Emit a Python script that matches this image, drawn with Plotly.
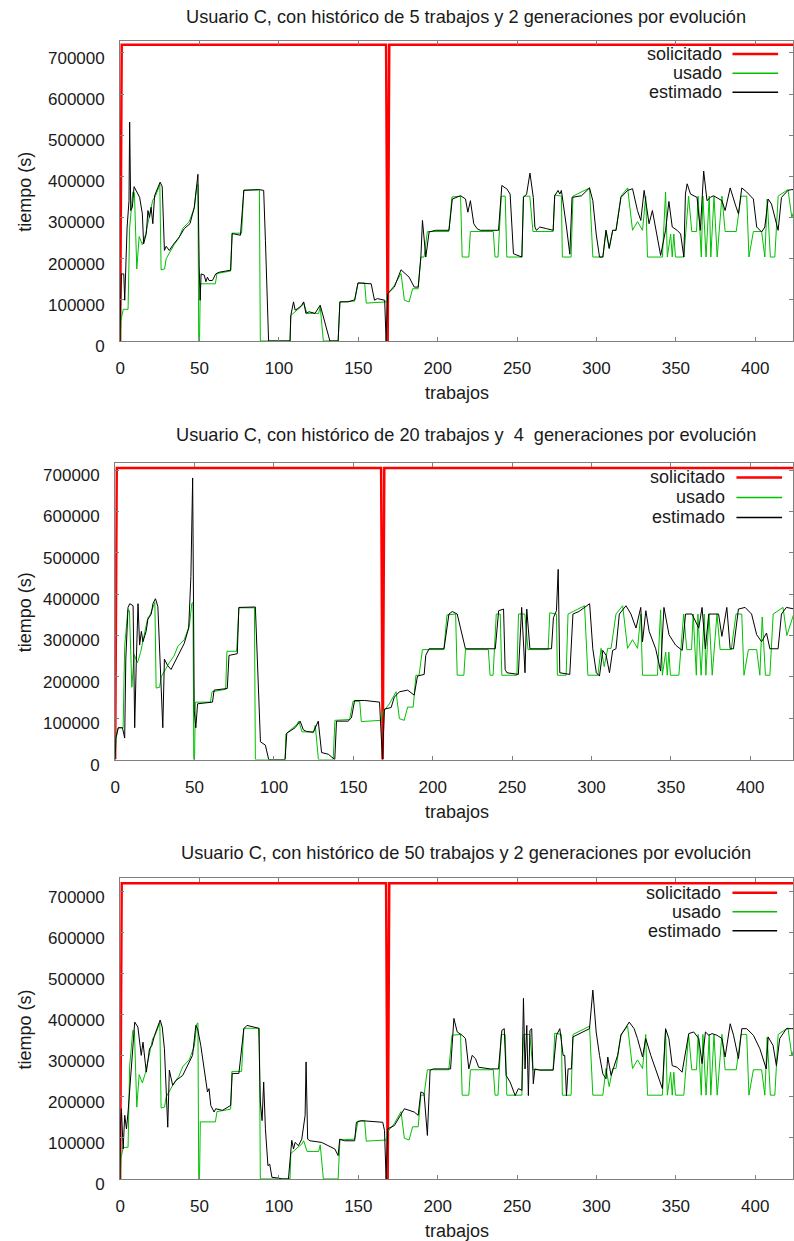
import plotly.graph_objects as go

# target picture is 794 x 1241; the capture squeezes the page height slightly, so the
# figure is drawn a little taller and every position is given as a fraction of the page
PAGE_W, PAGE_H = 794, 1241
W, H = 794, 1257

# ---------------- data (job index, seconds) ----------------
solicitado_x = [0, 1, 167.5, 168.5, 169.5, 430]
solicitado1_y = [0, 720000, 720000, 0, 720000, 720000]
solicitado2_y = [0, 705000, 705000, 0, 705000, 705000]
solicitado3_y = [0, 720000, 720000, 0, 720000, 720000]

usado_x = [0, 0.5, 2, 5, 6, 8, 9, 10.5, 12, 14, 16, 18.5, 20.5, 22, 24.5, 25, 25.8, 28, 29, 31, 34, 37, 39.5, 43.5, 46.7, 48.3, 49, 49.5, 50, 50.5, 60, 61, 69.6, 70.4, 76.5, 77.9, 87.7, 88.3,
           107, 107.5, 114.4, 115.6, 117.7, 125, 126, 128, 137.3, 138.4, 147.7, 149.8, 154, 155, 167.5, 168.5, 172.7, 176.9, 179, 182, 184.2, 187.7, 189.4, 191.4, 193.5, 207, 209, 214.4,
           215.4, 219.6, 220.6, 235, 236.1, 238, 240, 242.5, 243.5, 253, 254, 258, 260, 272.7, 273.7, 277.9, 278.5, 284, 285.2, 295.6, 297.7, 304, 306, 308, 310.2, 312.3, 315.4, 319.6,
           322.7, 325.8, 329, 331, 332.1, 341.5, 343.5, 344.6, 346.7, 347.7, 348.7, 349.7, 355, 358, 360, 363, 364, 366, 367, 369, 371, 372, 374, 376, 379, 381, 388, 391, 394.6, 396,
           398.8, 404, 406, 407.5, 409.5, 412.3, 414.4, 420.6, 423, 428]
usado_y = [0, 50e3, 77e3, 77e3, 275e3, 362e3, 360e3, 175e3, 254e3, 234e3, 259e3, 310e3, 342e3, 350e3, 378e3, 380e3, 173e3, 175e3, 200e3, 215e3, 234e3, 250e3, 274e3, 290e3, 323e3, 378e3, 380e3, 0, 0, 139e3, 139e3, 164e3, 170e3, 262e3, 262e3, 367e3, 367e3, 0,
           0, 62e3, 85e3, 93e3, 67e3, 67e3, 83e3, 0, 0, 95e3, 97e3, 141e3, 141e3, 92e3, 95e3, 115e3, 135e3, 164e3, 99e3, 95e3, 127e3, 127e3, 204e3, 204e3, 266e3, 266e3, 350e3, 352e3,
           204e3, 204e3, 266e3, 266e3, 204e3, 204e3, 352e3, 352e3, 204e3, 204e3, 352e3, 352e3, 266e3, 266e3, 355e3, 352e3, 204e3, 204e3, 352e3, 372e3, 204e3, 204e3, 269e3, 225e3, 269e3, 269e3, 352e3, 372e3,
           269e3, 290e3, 269e3, 352e3, 204e3, 204e3, 362e3, 204e3, 260e3, 204e3, 260e3, 204e3, 204e3, 352e3, 266e3, 266e3, 352e3, 204e3, 352e3, 204e3, 352e3, 204e3, 352e3, 204e3, 352e3, 266e3, 266e3, 352e3, 352e3, 204e3,
           266e3, 266e3, 204e3, 345e3, 204e3, 204e3, 352e3, 368e3, 300e3, 360e3]

estimado1_x = [0, 0.1, 0.8, 2.3, 2.9, 3.9, 4.4, 5.6, 6, 6.7, 7.7, 8.8, 12.3, 14, 14.8, 16.5, 17.5, 18.5, 19.5, 20.6, 21.7, 23.8, 25.2, 26.5, 27.9, 29, 31, 33, 37.3, 40.4, 44, 46.7, 48.3, 49, 49.8, 50.4, 51, 53, 54, 55, 56, 58.1, 60.2, 62.3, 69.6, 70.6, 75.8, 77.9, 87.3, 90.4, 91.5, 93.5,
               107, 107.5, 109.2, 110.2, 112, 114.4, 115.6, 117, 119, 122.7, 126, 128, 132.1, 137.3, 138.4, 143.5, 147.7, 149.8, 158.1, 160.2, 162, 166.6, 167.5, 168.5, 172.7, 176.9, 182, 185.2, 187.7, 189.4, 190.4, 192.5, 194.6, 198.8, 207.1, 209.2, 214.4, 217.5, 219, 220.6, 222.7, 224.8, 226.8,
               238.3, 240.4, 242.5, 243.5, 245.6, 247.7, 253, 254, 256, 258.1, 260.2, 261.2, 262.2, 264.3, 268.5, 272.7, 273.7, 275.8, 276.9, 277.9, 281.1, 283.2, 284.6, 290.6, 295.6, 297.7, 299.8, 301.9, 304, 306, 308, 310.2, 312.3, 315.4, 319.6, 322.7, 325.8, 327.9, 330, 333.1, 335.2, 338,
               340.4, 343.5, 345.6, 347.7, 350.8, 353, 355, 356, 357.1, 359.2, 363.3, 365.4, 367.5, 369.6, 371.7, 373.7, 379, 381, 384.2, 387.3, 389.4, 391.5, 394.6, 398.8, 400.9, 404, 406, 408.1, 410.2, 412.3, 414.4, 416.5, 420.6, 423, 428]
estimado1_y = [0, 58e3, 163e3, 163e3, 99e3, 196e3, 277e3, 341e3, 532e3, 317e3, 325e3, 375e3, 349e3, 309e3, 236e3, 261e3, 317e3, 300e3, 325e3, 285e3, 353e3, 373e3, 386e3, 375e3, 220e3, 230e3, 220e3, 232e3, 253e3, 273e3, 285e3, 325e3, 390e3, 405e3, 180e3, 99e3, 163e3, 160e3, 144e3, 155e3, 147e3, 147e3, 163e3, 167e3, 172e3, 261e3, 257e3, 366e3, 368e3, 366e3, 245e3, 0,
               0, 62e3, 95e3, 75e3, 79e3, 87e3, 95e3, 67e3, 71e3, 67e3, 87e3, 59e3, 0, 0, 95e3, 95e3, 100e3, 141e3, 139e3, 99e3, 103e3, 99e3, 0, 115e3, 131e3, 173e3, 155e3, 131e3, 131e3, 204e3, 293e3, 204e3, 265e3, 269e3, 269e3, 345e3, 353e3, 345e3, 313e3, 341e3, 285e3, 273e3, 269e3,
               269e3, 378e3, 372e3, 370e3, 357e3, 212e3, 204e3, 349e3, 357e3, 408e3, 349e3, 277e3, 269e3, 277e3, 273e3, 269e3, 353e3, 366e3, 357e3, 366e3, 277e3, 211e3, 349e3, 353e3, 372e3, 341e3, 260e3, 204e3, 204e3, 269e3, 225e3, 269e3, 269e3, 349e3, 366e3, 370e3, 317e3, 293e3, 366e3, 285e3, 317e3, 260e3,
               208e3, 269e3, 339e3, 277e3, 269e3, 260e3, 204e3, 357e3, 382e3, 357e3, 349e3, 269e3, 413e3, 341e3, 349e3, 353e3, 341e3, 317e3, 372e3, 333e3, 309e3, 372e3, 362e3, 345e3, 277e3, 265e3, 277e3, 345e3, 333e3, 301e3, 269e3, 349e3, 366e3, 368e3, 366e3]

estimado2_x = [0, 0.4, 1.9, 4.6, 6, 6.7, 8.1, 9.2, 11.3, 12.3, 13.3, 14.4, 15.4, 16.5, 17.5, 19.5, 20.6, 22.7, 23.8, 25.4, 26.9, 27.9, 29, 30, 31, 33.1, 35.2, 38.3, 40.4, 43.5, 46.3, 47.7, 48.8, 49.8, 50.8, 51.9, 61.3, 62.3, 70.6, 71.7, 76.9, 77.9, 88.3, 89.4, 91.5, 94.6, 96.7,
               107, 108.1, 113.3, 116.5, 118.5, 120.6, 124.8, 126.9, 127.9, 130, 134.2, 138.3, 139.4, 146.7, 148.8, 150.8, 157.1, 166.5, 168.3, 169.6, 173.8, 175.8, 179, 184.2, 188.3, 190.4, 194.6, 195.6, 197.7, 207.1, 210.2, 212.3, 215.4, 217.5, 220.6, 239.4, 241.5, 244.6, 245.6, 246.7,
               253.9, 256, 258.1, 259.2, 261.2, 274.8, 276, 277.9, 279, 280, 286.3, 288.3, 292, 298.8, 300.8, 303, 305, 307.1, 309.2, 311.3, 313.3, 315.4, 317.5, 321.7, 324.8, 328, 331, 332.1, 334.2, 336.3, 340.4, 343.5, 345.6, 348.8, 352.9, 357.1, 359.2, 363.3, 367.5, 369.6, 371.7, 373.8,
               380, 382.1, 385.2, 387.3, 389.4, 392.5, 396.7, 400.8, 404, 407.1, 410.2, 412.3, 417.5, 419.6, 422.7, 428]
estimado2_y = [0, 52e3, 77e3, 77e3, 52e3, 243e3, 368e3, 377e3, 372e3, 77e3, 235e3, 377e3, 277e3, 310e3, 285e3, 310e3, 339e3, 352e3, 377e3, 389e3, 370e3, 277e3, 185e3, 77e3, 243e3, 227e3, 218e3, 243e3, 260e3, 281e3, 318e3, 443e3, 681e3, 118e3, 77e3, 135e3, 139e3, 168e3, 172e3, 252e3, 256e3, 368e3, 369e3, 252e3, 43e3, 35e3, 0,
               0, 64e3, 77e3, 93e3, 72e3, 68e3, 66e3, 85e3, 93e3, 17e3, 13e3, 0, 93e3, 93e3, 101e3, 143e3, 143e3, 139e3, 0, 122e3, 126e3, 151e3, 164e3, 168e3, 156e3, 202e3, 206e3, 252e3, 268e3, 268e3, 352e3, 358e3, 352e3, 318e3, 268e3, 268e3, 360e3, 364e3, 218e3, 210e3,
               206e3, 368e3, 210e3, 364e3, 268e3, 268e3, 343e3, 360e3, 460e3, 210e3, 206e3, 352e3, 358e3, 377e3, 268e3, 210e3, 202e3, 264e3, 252e3, 210e3, 264e3, 268e3, 352e3, 372e3, 352e3, 318e3, 368e3, 285e3, 360e3, 310e3, 268e3, 214e3, 368e3, 302e3, 277e3, 264e3, 352e3, 352e3, 318e3, 368e3, 268e3, 352e3,
               352e3, 298e3, 368e3, 268e3, 268e3, 364e3, 368e3, 352e3, 302e3, 285e3, 306e3, 268e3, 268e3, 352e3, 368e3, 364e3]

estimado3_x = [0, 0.2, 0.8, 1.9, 2.9, 4, 5, 7.1, 9.2, 11.2, 13.3, 14.4, 15.4, 16.5, 18.5, 20, 21.7, 23.8, 25.2, 26.5, 27.9, 30, 31, 33.1, 35.2, 39.4, 43.1, 45.6, 47.7, 48.8, 50.8, 53, 55, 56, 57.1, 59.2, 60.2, 64.4, 69.6, 70.6, 74.8, 77.9, 79.9, 87.3, 88.3, 89.4, 90.4, 91.5, 93.1, 94.2, 95.6, 99.8, 101.9,
               106, 108.1, 109.2, 110.2, 112.3, 114.4, 116.5, 117.1, 118.1, 119.6, 126.9, 135.2, 137.3, 138.3, 141.4, 147.7, 148.8, 151.9, 165.4, 166.5, 167.5, 168.5, 172.7, 179, 185.2, 187.7, 189.4, 191.4, 193.5, 195.2, 197.3, 208.1, 210.2, 212.3, 215.4, 217.5, 219.6, 221.7, 223.8, 225.8,
               233.1, 238.3, 240.4, 241.9, 243.1, 245.6, 248.8, 250.8, 253, 254, 255, 256.1, 257.1, 258.1, 259.2, 260.2, 261.2, 264.3, 272.7, 274.8, 276.9, 279, 280, 281.1, 282.1, 284.2, 285.2, 289.4, 295.6, 297.7, 299.8, 301.9, 304, 306, 307.1, 309.2, 311.3, 313.3, 315.4, 320.6, 323.7,
               325.8, 329, 331, 334.2, 337.3, 340.4, 341.5, 343.5, 345.6, 347.7, 350.8, 353.9, 358.1, 361.2, 364.4, 366.5, 368.6, 370.7, 372.8, 375.8, 379, 381, 384.2, 386.3, 389.4, 391.5, 394.6, 398.8, 402.9, 406.9, 408.1, 411.2, 413.3, 415.4, 419.6, 423, 428]
estimado3_y = [0, 130e3, 171e3, 73e3, 155e3, 122e3, 163e3, 268e3, 382e3, 370e3, 301e3, 333e3, 293e3, 260e3, 317e3, 325e3, 350e3, 374e3, 387e3, 370e3, 317e3, 126e3, 265e3, 228e3, 240e3, 252e3, 281e3, 301e3, 374e3, 366e3, 325e3, 268e3, 212e3, 220e3, 179e3, 163e3, 171e3, 167e3, 179e3, 257e3, 257e3, 366e3, 374e3, 367e3, 187e3, 142e3, 236e3, 122e3, 32e3, 36e3, 4e3, 2e3, 0,
               0, 94e3, 73e3, 89e3, 81e3, 97e3, 155e3, 285e3, 97e3, 93e3, 89e3, 73e3, 57e3, 97e3, 93e3, 93e3, 138e3, 142e3, 138e3, 118e3, 0, 122e3, 130e3, 171e3, 163e3, 155e3, 212e3, 208e3, 106e3, 265e3, 268e3, 268e3, 391e3, 358e3, 350e3, 342e3, 268e3, 301e3, 293e3, 272e3,
               268e3, 268e3, 362e3, 366e3, 252e3, 236e3, 203e3, 220e3, 216e3, 440e3, 268e3, 374e3, 203e3, 362e3, 366e3, 232e3, 268e3, 265e3, 265e3, 350e3, 366e3, 301e3, 301e3, 203e3, 268e3, 268e3, 346e3, 354e3, 366e3, 460e3, 358e3, 301e3, 256e3, 244e3, 297e3, 252e3, 277e3, 301e3, 350e3, 382e3, 366e3,
               342e3, 297e3, 342e3, 301e3, 268e3, 236e3, 220e3, 366e3, 342e3, 276e3, 272e3, 260e3, 354e3, 358e3, 342e3, 281e3, 358e3, 350e3, 354e3, 350e3, 342e3, 297e3, 378e3, 350e3, 293e3, 366e3, 366e3, 350e3, 317e3, 268e3, 346e3, 325e3, 276e3, 342e3, 366e3, 366e3, 366e3]

titulos = ["Usuario C, con histórico de 5 trabajos y 2 generaciones por evolución",
           "Usuario C, con histórico de 20 trabajos y \u00a04\u00a0 generaciones por evolución",
           "Usuario C, con histórico de 50 trabajos y 2 generaciones por evolución"]
solicitados = [solicitado1_y, solicitado2_y, solicitado3_y]
estimados = [(estimado1_x, estimado1_y), (estimado2_x, estimado2_y), (estimado3_x, estimado3_y)]
series_names = ["solicitado", "usado", "estimado"]
series_colors = ["#ff0000", "#00c000", "#000000"]
x_ticks = [0, 50, 100, 150, 200, 250, 300, 350, 400]
y_ticks = [0, 100000, 200000, 300000, 400000, 500000, 600000, 700000]

# ---------------- layout geometry (target picture pixels) ----------------
panels = [
    dict(left=116, top=41, bottom=340.7, ymax=729000, title_y=17, leg_rows=[54, 73.3, 92.3], leg_text_r=724, leg_line=(733, 779)),
    dict(left=111, top=462.7, bottom=759, ymax=717000, title_y=435, leg_rows=[477, 497, 517], leg_text_r=728, leg_line=(737, 783)),
    dict(left=116, top=877.7, bottom=1178, ymax=732000, title_y=852, leg_rows=[892, 911, 930], leg_text_r=723, leg_line=(733, 778)),
]
PX_PER_JOB = 1.6

def fx(px):
    return px / PAGE_W

def fy(py):
    return 1 - py / PAGE_H

FONT = "Liberation Sans, Arial, sans-serif"
fig = go.Figure()
layout = dict(width=W, height=H, autosize=False, margin=dict(l=0, r=0, t=0, b=0, pad=0), paper_bgcolor="white",
              plot_bgcolor="white", showlegend=False, annotations=[], shapes=[])

for i, p in enumerate(panels):
    n = "" if i == 0 else str(i + 1)
    xa, ya = "x" + n, "y" + n
    ex, ey = estimados[i]
    fig.add_trace(go.Scatter(x=solicitado_x, y=solicitados[i], mode="lines", name=series_names[0],
                             line=dict(color=series_colors[0], width=2.5), xaxis=xa, yaxis=ya))
    fig.add_trace(go.Scatter(x=usado_x, y=usado_y, mode="lines", name=series_names[1],
                             line=dict(color=series_colors[1], width=1), xaxis=xa, yaxis=ya))
    fig.add_trace(go.Scatter(x=ex, y=ey, mode="lines", name=series_names[2],
                             line=dict(color=series_colors[2], width=1), xaxis=xa, yaxis=ya))
    xmax = (PAGE_W - p["left"]) / PX_PER_JOB
    common = dict(showgrid=False, zeroline=False, showline=True, linecolor="#808080", linewidth=1,
                  mirror="ticks", ticks="inside", ticklen=4, tickcolor="#808080",
                  tickfont=dict(family=FONT, size=17, color="#1a1a1a"))
    layout["xaxis" + n] = dict(common, domain=[fx(p["left"]), 1], range=[0, xmax], anchor=ya,
                               tickvals=x_ticks, ticklabelstandoff=12)
    layout["yaxis" + n] = dict(common, domain=[fy(p["bottom"]), fy(p["top"])], range=[0, p["ymax"]],
                               anchor=xa, tickvals=y_ticks, tickformat="d", ticklabelstandoff=11,
                               ticklabelshift=5)
    cx = 465
    layout["annotations"].append(dict(text=titulos[i], x=fx(cx), y=fy(p["title_y"]), xref="paper", yref="paper",
                                      showarrow=False, xanchor="center", yanchor="middle",
                                      font=dict(family=FONT, size=18.2, color="#1a1a1a")))
    mid = (p["top"] + p["bottom"]) / 2 + 1
    layout["annotations"].append(dict(text="tiempo (s)", x=fx(20), y=fy(mid), xref="paper", yref="paper",
                                      showarrow=False, textangle=-90, xanchor="center", yanchor="middle",
                                      font=dict(family=FONT, size=18, color="#1a1a1a")))
    layout["annotations"].append(dict(text="trabajos", x=fx(455), y=fy(p["bottom"] + 52), xref="paper", yref="paper",
                                      showarrow=False, xanchor="center", yanchor="middle",
                                      font=dict(family=FONT, size=18, color="#1a1a1a")))
    # legend (gnuplot style: text left of the sample line)
    widths = [2.5, 1.5, 1.5]
    for k in range(3):
        ry = p["leg_rows"][k]
        layout["annotations"].append(dict(text=series_names[k], x=fx(p["leg_text_r"]), y=fy(ry), xref="paper", yref="paper",
                                          showarrow=False, xanchor="right", yanchor="middle",
                                          font=dict(family=FONT, size=18, color="#1a1a1a")))
        layout["shapes"].append(dict(type="line", xref="paper", yref="paper",
                                     x0=fx(p["leg_line"][0]), x1=fx(p["leg_line"][1]), y0=fy(ry), y1=fy(ry),
                                     line=dict(color=series_colors[k], width=widths[k])))

fig.update_layout(**layout)
fig.write_html("out.html")
